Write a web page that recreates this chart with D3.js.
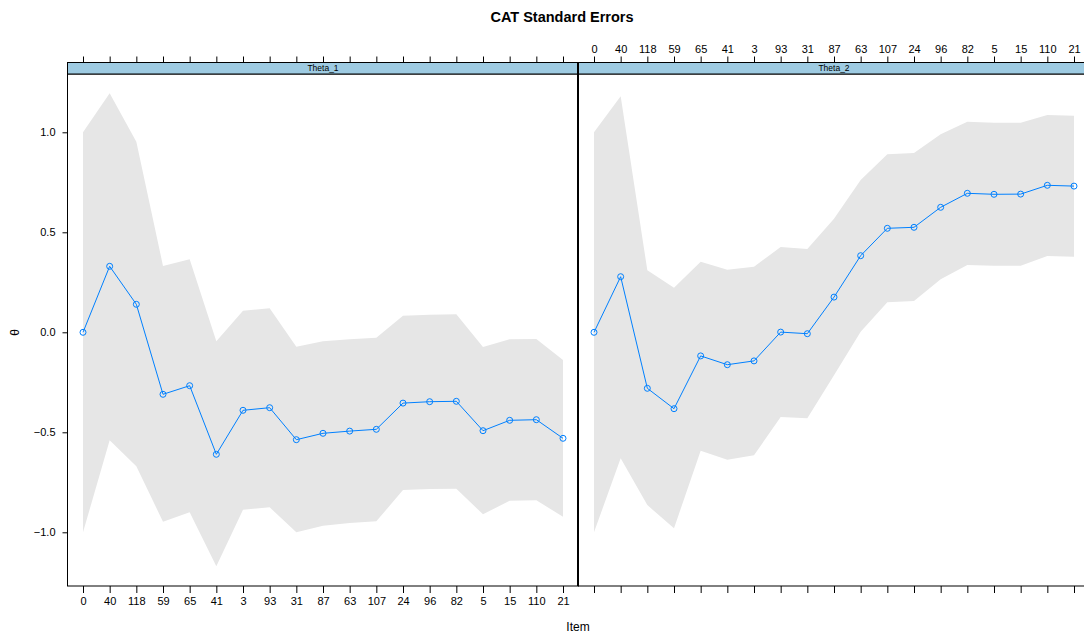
<!DOCTYPE html>
<html>
<head>
<meta charset="utf-8">
<script src="https://cdn.jsdelivr.net/npm/d3@7"></script>
<style>
  html, body { margin: 0; padding: 0; background: #fff; }
  svg { display: block; font-family: "Liberation Sans", Arial, Helvetica, sans-serif; }
</style>
</head>
<body>
<svg id="chart" width="1084" height="633"></svg>
<script>
// Items in administration order
const items = ["0", "40", "118", "59", "65", "41", "3", "93", "31", "87", "63", "107", "24", "96", "82", "5", "15", "110", "21"];
const panels = ["Theta_1", "Theta_2"];
const yTicks = [-1.0, -0.5, 0.0, 0.5, 1.0];

// Theta_1 estimates with upper / lower SE bounds
const theta1 = [0.00, 0.33, 0.14, -0.31, -0.267, -0.61, -0.39, -0.377, -0.537, -0.505, -0.494, -0.485, -0.354, -0.347, -0.345, -0.492, -0.44, -0.437, -0.53];
const theta1Upper = [1.00, 1.195, 0.953, 0.332, 0.365, -0.045, 0.108, 0.12, -0.072, -0.045, -0.035, -0.027, 0.083, 0.088, 0.09, -0.073, -0.035, -0.033, -0.139];
const theta1Lower = [-1.00, -0.54, -0.67, -0.947, -0.90, -1.17, -0.887, -0.875, -1.00, -0.967, -0.953, -0.945, -0.789, -0.784, -0.782, -0.91, -0.842, -0.84, -0.922];

// Theta_2 estimates with upper / lower SE bounds
const theta2 = [0.00, 0.278, -0.28, -0.382, -0.118, -0.162, -0.143, 0.001, -0.007, 0.176, 0.383, 0.52, 0.525, 0.625, 0.695, 0.69, 0.691, 0.735, 0.731];
const theta2Upper = [1.00, 1.18, 0.31, 0.223, 0.353, 0.313, 0.328, 0.426, 0.416, 0.568, 0.761, 0.89, 0.896, 0.99, 1.053, 1.048, 1.048, 1.086, 1.083];
const theta2Lower = [-1.00, -0.63, -0.864, -0.98, -0.592, -0.637, -0.615, -0.423, -0.43, -0.215, 0.003, 0.15, 0.156, 0.265, 0.336, 0.333, 0.333, 0.381, 0.378];

const panelData = [
  { name: panels[0], est: theta1, up: theta1Upper, lo: theta1Lower },
  { name: panels[1], est: theta2, up: theta2Upper, lo: theta2Lower }
];

const svg = d3.select("#chart");

// Layout
const plotTop = 74, plotBottom = 586;
const stripTop = 62.5;
const panelLeft = [67.5, 578.5];
const panelWidth = 511;
const lineCol = "#0080ff";

const y = d3.scaleLinear().domain([-1.2685, 1.2915]).range([plotBottom, plotTop]);

panelData.forEach((p, i) => {
  const x0 = panelLeft[i], x1 = x0 + panelWidth;
  const x = d3.scalePoint().domain(items).range([x0 + 15.5, x1 - 15.5]);
  const g = svg.append("g");

  // SE band
  const area = d3.area()
    .x((d, j) => x(items[j]))
    .y0((d, j) => y(p.lo[j]))
    .y1((d, j) => y(p.up[j]));
  g.append("path").datum(p.est).attr("d", area).attr("fill", "#e6e6e6");

  // estimate line
  const line = d3.line().x((d, j) => x(items[j])).y(d => y(d));
  g.append("path").datum(p.est).attr("d", line)
    .attr("fill", "none").attr("stroke", lineCol).attr("stroke-width", 1);

  g.selectAll("circle").data(p.est).join("circle")
    .attr("cx", (d, j) => x(items[j])).attr("cy", d => y(d)).attr("r", 3)
    .attr("fill", "none").attr("stroke", lineCol).attr("stroke-width", 1);

  // panel border
  g.append("rect").attr("x", x0).attr("y", plotTop).attr("width", panelWidth).attr("height", plotBottom - plotTop)
    .attr("fill", "none").attr("stroke", "#000").attr("stroke-width", 1);

  // strip
  g.append("rect").attr("x", x0).attr("y", stripTop).attr("width", panelWidth).attr("height", plotTop - stripTop)
    .attr("fill", "#9ecbe2").attr("stroke", "#000").attr("stroke-width", 1);
  g.append("text").attr("x", x0 + panelWidth / 2).attr("y", stripTop + 8.8)
    .attr("text-anchor", "middle").attr("font-size", 8.5).attr("fill", "#000").text(p.name);

  // bottom axis (labels on first panel only)
  const bottom = d3.axisBottom(x).tickSize(7).tickSizeOuter(0).tickPadding(4);
  if (i !== 0) bottom.tickFormat("");
  const bg = g.append("g").attr("transform", `translate(0,${plotBottom})`).call(bottom);
  bg.select(".domain").remove();

  // top axis (labels on second panel only)
  const top = d3.axisTop(x).tickSize(6).tickSizeOuter(0).tickPadding(4);
  if (i !== 1) top.tickFormat("");
  const tg = g.append("g").attr("transform", `translate(0,${stripTop})`).call(top);
  tg.select(".domain").remove();

  [bg, tg].forEach(a => {
    a.selectAll("text").attr("font-size", 11).attr("fill", "#000").attr("font-family", "Liberation Sans, Arial, sans-serif");
    a.selectAll("line").attr("stroke", "#000");
  });
});

// shared border between the two panels
svg.append("line").attr("x1", 578).attr("x2", 578).attr("y1", stripTop).attr("y2", plotBottom)
  .attr("stroke", "#000").attr("stroke-width", 2);

// left y axis
const ya = svg.append("g").attr("transform", `translate(${panelLeft[0]},0)`)
  .call(d3.axisLeft(y).tickValues(yTicks).tickFormat(d3.format(".1f")).tickSize(5).tickSizeOuter(0).tickPadding(7));
ya.select(".domain").remove();
ya.selectAll("text").attr("font-size", 11).attr("fill", "#000").attr("font-family", "Liberation Sans, Arial, sans-serif")
  .text(d => d3.format(".1f")(d).replace("-", "\u2212"));
ya.selectAll("line").attr("stroke", "#000");

// titles
svg.append("text").attr("x", 562).attr("y", 22).attr("text-anchor", "middle")
  .attr("font-size", 14.5).attr("font-weight", "bold").text("CAT Standard Errors");
svg.append("text").attr("x", 578).attr("y", 631).attr("text-anchor", "middle")
  .attr("font-size", 12).text("Item");
svg.append("text").attr("transform", `translate(19,${y(0)}) rotate(-90)`).attr("text-anchor", "middle")
  .attr("font-size", 12).text("θ");
</script>
</body>
</html>
